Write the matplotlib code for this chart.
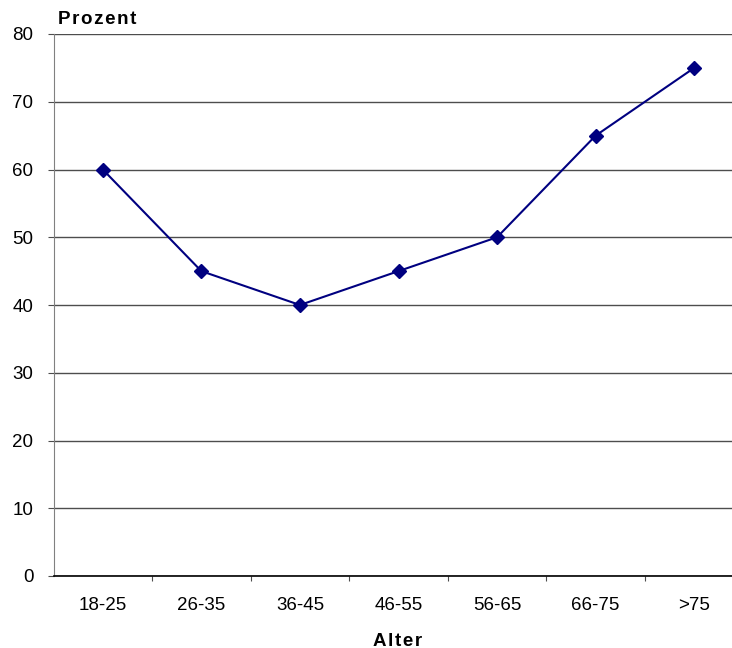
import matplotlib.pyplot as plt

plt.rcParams["font.family"] = ["Liberation Sans", "DejaVu Sans"]

categories = ["18-25", "26-35", "36-45", "46-55", "56-65", "66-75", ">75"]
values = [60, 45, 40, 45, 50, 65, 75]
y_ticks = [0, 10, 20, 30, 40, 50, 60, 70, 80]


def spaced(s):
    # the original draws its axis titles with a little letter spacing
    return "\u200a".join(s)


fig = plt.figure(figsize=(7.32, 6.48), dpi=100)
# plot area runs past the right edge of the picture, as in the original
ax = fig.add_axes([53.5 / 732, 72 / 648, 690 / 732, 542 / 648])

x = [i + 0.5 for i in range(len(categories))]
ax.plot(x, values, color="#000080", linewidth=1.5, marker="D", markersize=7.5,
        markerfacecolor="#000080", markeredgecolor="#000080", zorder=3)

ax.set_xlim(0, len(categories))
ax.set_ylim(0, 80)
ax.set_yticks(y_ticks)
ax.yaxis.grid(True, color="#4d4d4d", linewidth=1.0)
ax.set_axisbelow(True)

ax.set_xticks(range(1, len(categories)))
ax.set_xticklabels([])
ax.set_xticks(x, minor=True)
ax.set_xticklabels(categories, minor=True)
ax.tick_params(axis="x", which="minor", length=0, pad=15, labelsize=13.5)
ax.tick_params(axis="x", which="major", length=3.6, color="#4d4d4d", direction="out")
ax.tick_params(axis="y", length=4.5, color="#4d4d4d", pad=10, labelsize=13.5)

for s in ["top", "right"]:
    ax.spines[s].set_visible(False)
ax.spines["left"].set_color("#808080")
ax.spines["bottom"].set_color("black")
ax.spines["bottom"].set_linewidth(1.2)

fig.text(58 / 732, 1 - 20 / 648, spaced("Prozent"), fontsize=13.5, fontweight="bold",
         va="center", ha="left")
fig.text(398 / 732, 1 - 641 / 648, spaced("Alter"), fontsize=13.5, fontweight="bold",
         va="center", ha="center")

fig.savefig("out.png", dpi=100)
